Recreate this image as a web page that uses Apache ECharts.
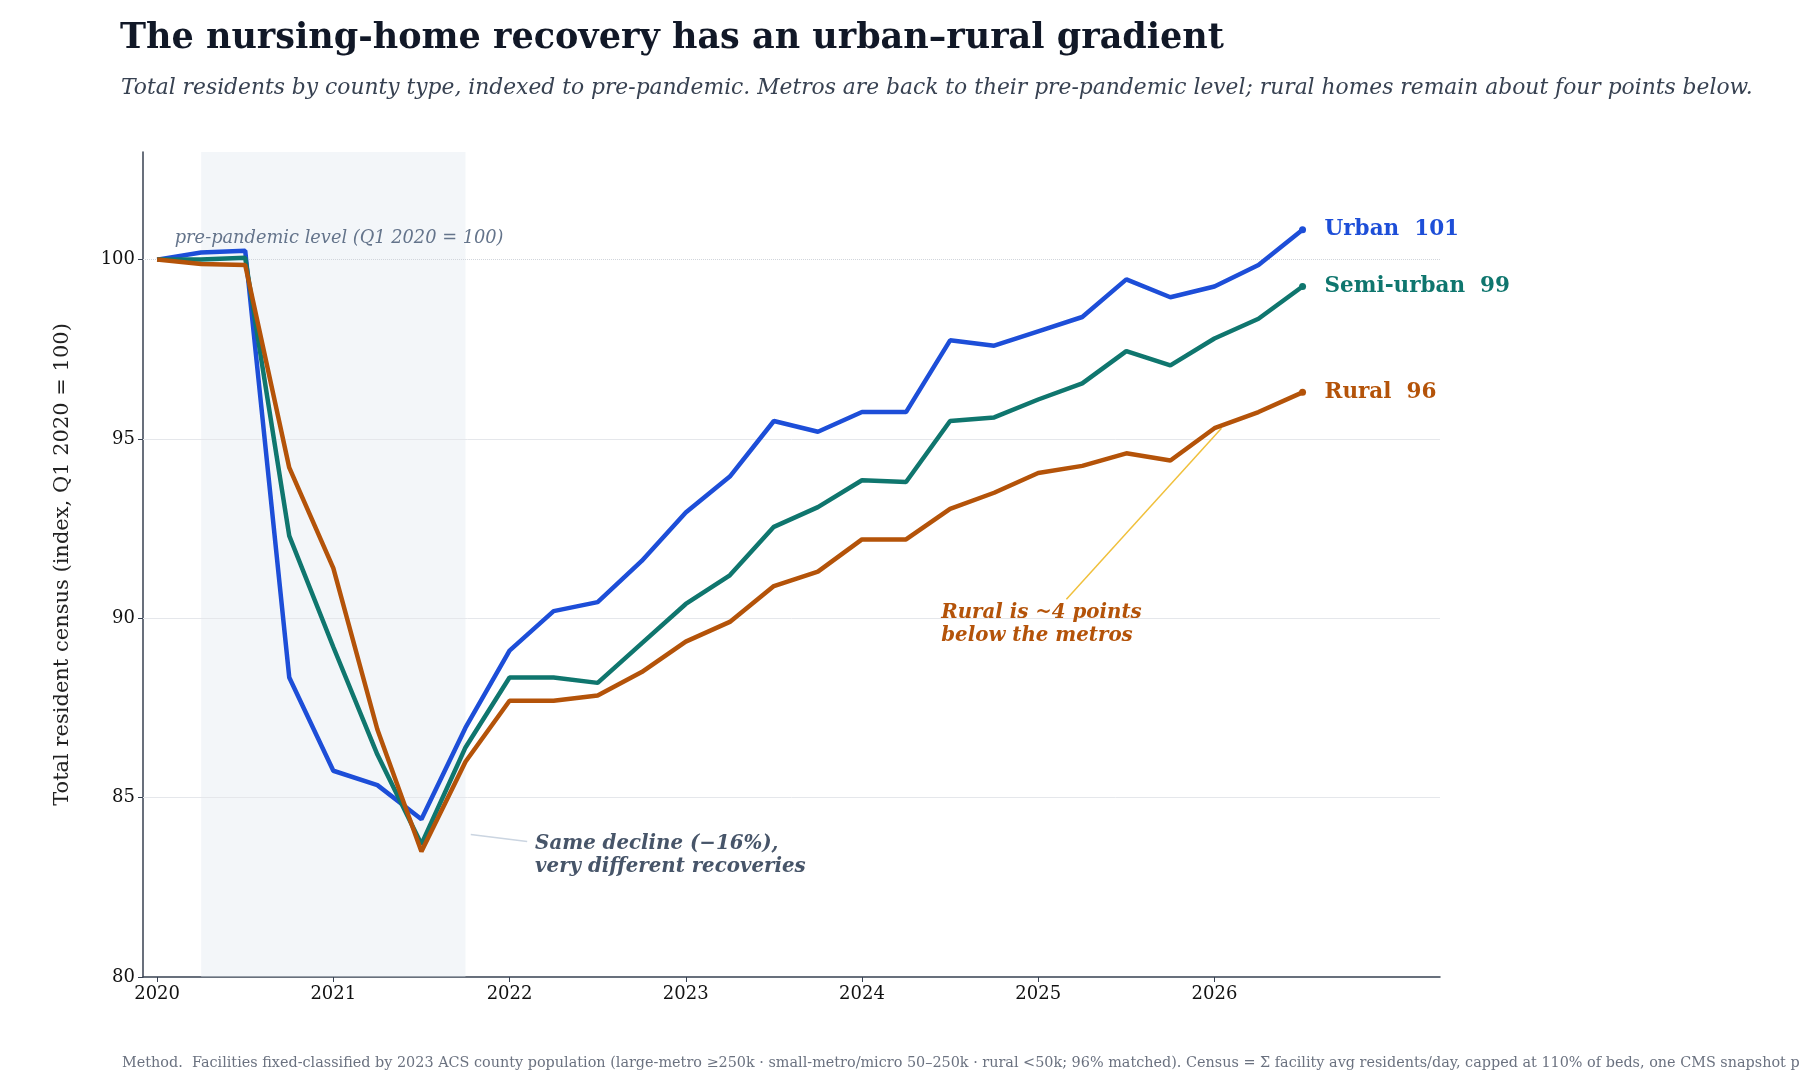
<!DOCTYPE html>
<html><head><meta charset="utf-8">
<script src="https://cdn.jsdelivr.net/npm/echarts@6/dist/echarts.min.js"></script>
<style>html,body{margin:0;padding:0;background:#fff}#c{width:1800px;height:1086px}</style>
</head><body><div id="c"></div>
<script>
const quarters = [2020,2020.25,2020.5,2020.75,2021,2021.25,2021.5,2021.75,2022,2022.25,2022.5,2022.75,2023,2023.25,2023.5,2023.75,2024,2024.25,2024.5,2024.75,2025,2025.25,2025.5,2025.75,2026,2026.25,2026.5];
const urban = [100,100.2,100.25,88.35,85.75,85.35,84.4,86.95,89.1,90.2,90.45,91.6,92.95,93.95,95.5,95.2,95.75,95.75,97.75,97.6,98.0,98.4,99.45,98.95,99.25,99.85,100.83];
const semi = [100,100.0,100.05,92.3,89.2,86.2,83.7,86.4,88.35,88.35,88.2,89.3,90.4,91.2,92.55,93.1,93.85,93.8,95.5,95.6,96.1,96.55,97.45,97.05,97.8,98.35,99.25];
const rural = [100,99.88,99.85,94.2,91.4,86.9,83.5,86.0,87.7,87.7,87.85,88.5,89.35,89.9,90.9,91.3,92.2,92.2,93.05,93.5,94.05,94.25,94.6,94.4,95.3,95.75,96.3];
const yearTicks = [2020,2021,2022,2023,2024,2025,2026];
const yTicks = [80,85,90,95,100];
const names = ['Urban','Semi-urban','Rural'];
const colors = ['#1d4ed8','#0f766e','#b45309'];
const F = 'DejaVu Serif';
const zip = a => quarters.map((q,i)=>[q,a[i]]);
const mkSeries = (name,data,color) => ({
  name, type:'line', data:zip(data), symbol:'none', lineStyle:{width:4.5,color}, itemStyle:{color},
  endLabel:{show:true, formatter: p => name+'  '+Math.round(p.value[1]), color, fontFamily:F, fontWeight:'bold', fontSize:21.5, distance:22},
  markPoint:{symbol:'circle', symbolSize:7, data:[{coord:[quarters[quarters.length-1], data[data.length-1]], itemStyle:{color}, label:{show:false}}]},
  z:5
});
const chart = echarts.init(document.getElementById('c'));
chart.setOption({
  animation:false,
  title:[
    {text:'The nursing-home recovery has an urban–rural gradient', left:115, top:16, textStyle:{fontFamily:F,fontWeight:'bold',fontSize:35,color:'#111827'}},
    {text:'Total residents by county type, indexed to pre-pandemic. Metros are back to their pre-pandemic level; rural homes remain about four points below.', left:116, top:72, textStyle:{fontFamily:F,fontStyle:'italic',fontWeight:'normal',fontSize:21.8,color:'#374151'}},
    {text:'Method.  Facilities fixed-classified by 2023 ACS county population (large-metro ≥250k · small-metro/micro 50–250k · rural <50k; 96% matched). Census = Σ facility avg residents/day, capped at 110% of beds, one CMS snapshot per quarter.', left:117, top:1051, textStyle:{fontFamily:F,fontWeight:'normal',fontSize:14.4,color:'#6b7280'}}
  ],
  grid:{left:143, right:360, top:152, bottom:109},
  xAxis:{type:'value', min:2019.92, max:2027.28,
    axisLine:{lineStyle:{color:'#374151',width:1.5}},
    axisTick:{show:true, customValues:yearTicks, lineStyle:{color:'#374151'}},
    axisLabel:{customValues:yearTicks, fontFamily:F, fontSize:18, color:'#111', formatter:v=>String(Math.round(v))},
    splitLine:{show:false}},
  yAxis:{type:'value', min:80, max:103,
    name:'Total resident census (index, Q1 2020 = 100)', nameLocation:'middle', nameGap:70,
    nameTextStyle:{fontFamily:F,fontSize:21,color:'#222'},
    axisLine:{show:true,lineStyle:{color:'#374151',width:1.5}},
    axisTick:{show:true, customValues:yTicks, lineStyle:{color:'#374151'}},
    axisLabel:{customValues:yTicks, fontFamily:F, fontSize:18, color:'#111'},
    splitLine:{show:false}},
  series:[
    {type:'line', data:[], silent:true,
      markArea:{silent:true, itemStyle:{color:'rgba(226,232,240,0.4)'}, data:[[{xAxis:2020.25},{xAxis:2021.75}]]},
      markLine:{silent:true, symbol:'none', label:{show:false},
        lineStyle:{color:'#e5e7eb',width:1,type:'solid'},
        data:[{yAxis:85},{yAxis:90},{yAxis:95},{yAxis:100,lineStyle:{type:'dotted',color:'#d1d5db'}},
          [{coord:[2021.78,83.97],lineStyle:{color:'#cbd5e1',width:1.5,type:'solid'}},{coord:[2022.1,83.78]}],
          [{coord:[2025.16,90.53],lineStyle:{color:'#f0c03c',width:1.5,type:'solid'}},{coord:[2026.04,95.3]}]
        ]},
      markPoint:{silent:true, symbol:'circle', symbolSize:0, data:[
        {coord:[2020.1,100.58], label:{show:true, position:'right', distance:0, formatter:'pre-pandemic level (Q1 2020 = 100)', fontFamily:F, fontStyle:'italic', fontSize:17.8, color:'#64748b'}},
        {coord:[2022.145,83.4], label:{show:true, position:'right', distance:0, formatter:'Same decline (−16%),\nvery different recoveries', fontFamily:F, fontStyle:'italic', fontWeight:'bold', fontSize:19.8, lineHeight:23, color:'#475569'}},
        {coord:[2024.45,89.83], label:{show:true, position:'right', distance:0, formatter:'Rural is ~4 points\nbelow the metros', fontFamily:F, fontStyle:'italic', fontWeight:'bold', fontSize:19.8, lineHeight:23, color:'#b45309'}}
      ]}},
    mkSeries(names[0],urban,colors[0]),
    mkSeries(names[1],semi,colors[1]),
    mkSeries(names[2],rural,colors[2])
  ]
});
</script></body></html>
